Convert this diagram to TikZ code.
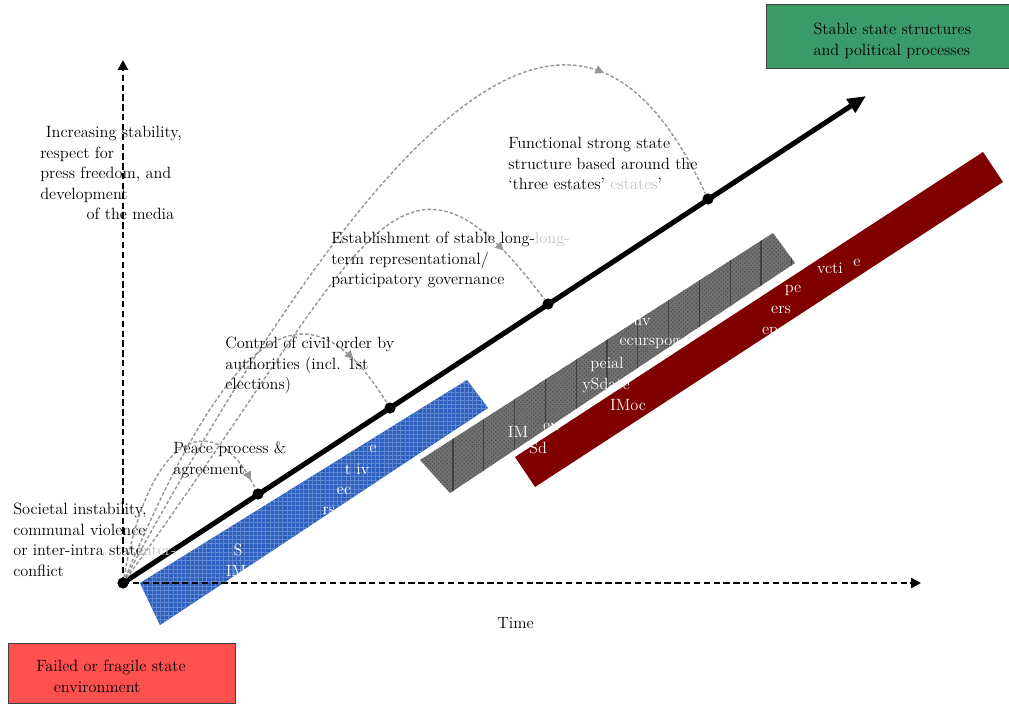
\documentclass[tikz,border=0pt]{standalone}
\usepackage{fontspec}
\usetikzlibrary{arrows.meta,decorations.markings,patterns}
\definecolor{barblue}{RGB}{45,95,190}
\definecolor{gridblue}{RGB}{95,135,210}
\definecolor{bargray}{RGB}{112,112,112}
\definecolor{bardark}{RGB}{75,75,75}
\definecolor{barred}{RGB}{128,0,0}
\definecolor{failred}{RGB}{255,80,80}
\definecolor{stablegreen}{RGB}{58,155,105}
\definecolor{trailgray}{RGB}{150,150,150}
\definecolor{ghost}{RGB}{195,195,195}
\begin{document}
\begin{tikzpicture}[x=0.025cm, y=-0.025cm,
    every node/.style={font=\fontsize{11.6}{14.6}\selectfont},
    note/.style={anchor=north west, inner sep=0pt, align=left},
    bartext/.style={text=white, inner sep=0pt},
    dot/.style={circle, fill=black, inner sep=0pt, minimum size=0.28cm},
    axis/.style={line width=2pt, dash pattern=on 4.5pt off 2.5pt, -{Triangle[length=7pt,width=7pt]}},
    mainline/.style={line width=3.6pt, -{Triangle[length=13pt,width=11pt]}},
    trail/.style={trailgray, line width=1pt, dash pattern=on 2.5pt off 1.5pt,
      postaction={decorate, decoration={markings,
        mark=at position #1 with {\arrow{Triangle[length=6pt,width=6pt]}}}}},
    statebox/.style={draw=black!75, line width=1pt, anchor=north west, align=left}]
  \useasboundingbox (0,0) rectangle (1009,704);

  % bars
  \path[fill=barblue, postaction={pattern=grid, pattern color=gridblue}]
    (140,583) -- (160,625) -- (488,408) -- (467,380) -- cycle;
  \path[fill=bargray, postaction={pattern=crosshatch dots, pattern color=bardark}]
    (420,460) -- (450,493) -- (795,263) -- (773,233) -- cycle;
  \begin{scope}
    \clip (420,460) -- (450,493) -- (795,263) -- (773,233) -- cycle;
    \foreach \k in {0,...,11}
      \draw[black!75, line width=0.9pt] ({453+30.8*\k},200) -- ++(0,320);
  \end{scope}
  \fill[barred] (515,457) -- (535,487) -- (1003,182) -- (983,152) -- cycle;

  % white text left in the bars
  \foreach \xpos/\ypos/\txt [count=\i] in {373/449/e, 357/469/t iv, 344/491/ec, 329/511/rs,
      238/550/S, 236/571/IM, 518/432/IM, 551/427/eu, 642/322/uv, 650/343/ecurspog,
      607/364/peial, 606/385/ySdate, 538/448/Sd, 628/405/IMoc, 830/268/vcti,
      857/263/e, 793/290/pe, 781/310/ers, 770/332/ep}
    \node[bartext] (bt\i) at (\xpos,\ypos) {\txt};

  % axes
  \node[dot] (o) at (123,583) {};
  \coordinate (yend) at (123,60);
  \coordinate (xend) at (921,583);
  \draw[axis] (o.center) -- (yend);
  \draw[axis] (o.center) -- (xend);

  % main line
  \coordinate (goal) at (866,96);
  \draw[mainline] (o.center) -- (goal);
  \node[dot] (peace) at (258,494) {};
  \node[dot] (order) at (390,408) {};
  \node[dot] (governance) at (548,304) {};
  \node[dot] (estates) at (708,199) {};

  % dashed trails
  \draw[trail=0.96] (o) .. controls (150,430) and (215,405) .. (peace);
  \draw[trail=0.87] (o) .. controls (230,330) and (305,270) .. (order);
  \draw[trail=0.9] (o) .. controls (366,249) and (395,100) .. (governance);
  \draw[trail=0.82] (o) .. controls (465,-48) and (615,0) .. (estates);

  % labels
  \node[note] (unrest) at (13,503) {Societal instability,\\communal violence\\or inter-intra state\hspace*{-3pt}{\color{ghost}inter-}\\conflict};
  \node[note] (stability) at (40,126) {\hspace*{4pt}Increasing stability,\\respect for\\press freedom, and\\development\\\hspace*{33pt}of the media};
  \node[note] (process) at (173,442) {Peace process \&\\agreement};
  \node[note] (civil) at (225,337) {Control of civil order by\\authorities (incl. 1st\\elections)};
  \node[note] (longterm) at (331,232) {Establishment of stable long-{\color{ghost}long-}\\term representational/\\participatory governance};
  \node[note] (strong) at (508,137) {Functional strong state\\structure based around the\\‘three estates’ {\color{ghost}estates}’};
  \node[anchor=base west, inner sep=0pt] (time) at (497,628) {Time};

  % boxes
  \node[statebox, fill=failred, text width=4.29cm, inner xsep=0.69cm, inner ysep=0.275cm] (fail) at (8,643)
    {\rule{0pt}{12.1pt}Failed or fragile state\\\hspace*{12.5pt}environment};
  \node[statebox, fill=stablegreen, text width=5cm, inner xsep=1.17cm, inner ysep=0.26cm] (stable) at (766,4)
    {\rule{0pt}{13.9pt}Stable state structures\\and political processes};
\end{tikzpicture}
\end{document}
